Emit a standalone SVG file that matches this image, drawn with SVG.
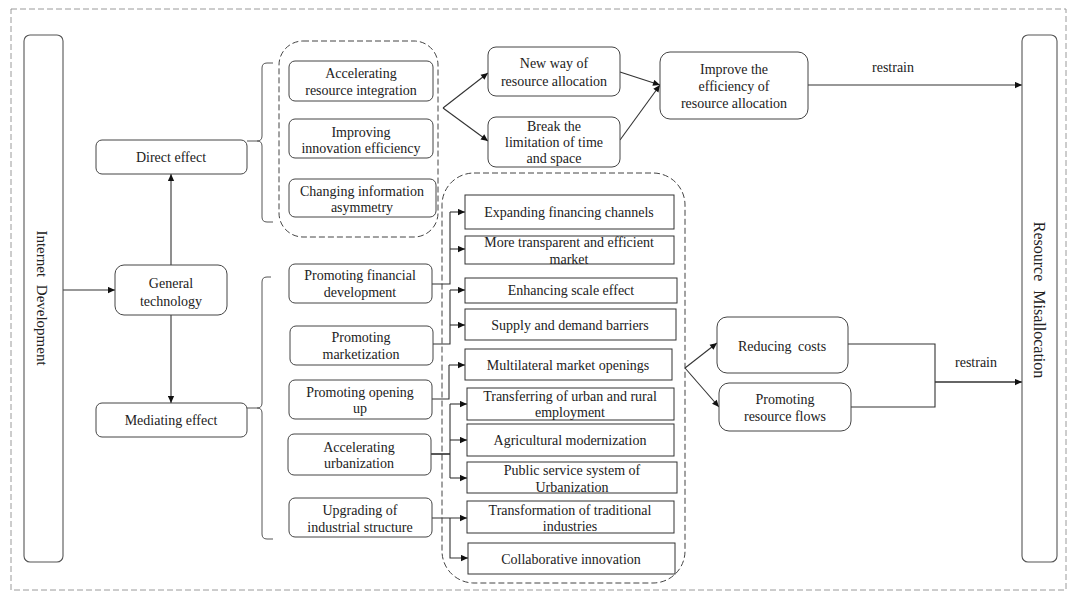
<svg xmlns="http://www.w3.org/2000/svg" width="1076" height="600" viewBox="0 0 1076 600" font-family="'Liberation Serif', 'Times New Roman', 'DejaVu Serif', serif">
<style>
  .t{font-family:'Liberation Serif','Times New Roman','DejaVu Serif',serif;font-size:14px;fill:#222;text-anchor:middle}
  .big{font-size:16px}
  .box{fill:#fff;stroke:#444;stroke-width:1}
  .bar{fill:#fff;stroke:#555;stroke-width:1.1}
  .sq{fill:#fff;stroke:#333;stroke-width:1}
  .grp{fill:none;stroke:#444;stroke-width:1;stroke-dasharray:6,3}
  .outer{fill:#fff;stroke:#9a9a9a;stroke-width:1;stroke-dasharray:6,3}
  .c{fill:none;stroke:#333;stroke-width:1.1}
  .ca{fill:none;stroke:#333;stroke-width:1.1;marker-end:url(#ah)}
  .br{fill:none;stroke:#555;stroke-width:1}
</style>
<defs>
  <marker id="ah" viewBox="0 0 10 10" refX="10" refY="5" markerWidth="8" markerHeight="7" markerUnits="userSpaceOnUse" orient="auto">
    <path d="M0,0.5 L10,5 L0,9.5 z" fill="#111"/>
  </marker>
</defs>
<rect x="0" y="0" width="1076" height="600" fill="#fff"/>
<rect class="outer" x="11" y="9" width="1055" height="581"/>

<g id="groups">
  <rect class="grp" x="279" y="41" width="159" height="196" rx="24"/>
  <rect class="grp" x="442" y="173" width="243" height="410" rx="32"/>
</g>

<g id="connectors">
  <path class="ca" d="M63,290 H115"/>
  <path class="ca" d="M171,265 V174"/>
  <path class="ca" d="M171,315 V403"/>
  <path class="br" d="M247,141 H257 Q262,141 262,136 V68 Q262,63 267,63 H273 M257,141 Q262,141 262,146 V217 Q262,222 267,222 H273"/>
  <path class="br" d="M247,408 H257 Q262,408 262,403 V282 Q262,277 267,277 H271 M257,408 Q262,408 262,413 V534 Q262,539 267,539 H273"/>
  <path class="ca" d="M443,108 L488,73"/>
  <path class="ca" d="M443,108 L488,141"/>
  <path class="ca" d="M620,72 L660,85"/>
  <path class="ca" d="M620,140 L660,85"/>
  <path class="ca" d="M808,85 H1022"/>
  <path class="c" d="M432,284 H450 V212"/>
  <path class="ca" d="M450,212 H465"/>
  <path class="ca" d="M450,249 H465"/>
  <path class="c" d="M433,344 H450 V290"/>
  <path class="ca" d="M450,290 H465"/>
  <path class="ca" d="M450,325 H465"/>
  <path class="c" d="M432,399 H449 V365"/>
  <path class="ca" d="M449,365 H465"/>
  <path class="c" d="M431,454 H450" style="stroke:#111;stroke-width:1.4"/>
  <path class="c" d="M450,404 V478"/>
  <path class="ca" d="M450,404 H467"/>
  <path class="ca" d="M450,440 H467"/>
  <path class="ca" d="M450,478 H467"/>
  <path class="ca" d="M432,518 H467"/>
  <path class="ca" d="M450,518 V558 H468"/>
  <path class="ca" d="M685,368 L717,343"/>
  <path class="ca" d="M685,368 L719,407"/>
  <path class="c" d="M848,344 H935 V382"/>
  <path class="c" d="M851,407 H935 V382"/>
  <path class="ca" d="M935,382 H1022" style="stroke-width:1.4"/>
  <text class="t" x="893" y="72">restrain</text>
  <text class="t" x="976" y="367">restrain</text>
</g>

<g id="internet-development">
  <rect class="bar" x="24" y="35" width="39" height="527" rx="6"/>
  <text class="t" transform="translate(42,298) rotate(90)" dy="0.35em" style="font-size:15px;word-spacing:4px">Internet Development</text>
</g>
<g id="resource-misallocation">
  <rect class="bar" x="1022" y="35" width="35" height="527" rx="6"/>
  <text class="t big" transform="translate(1040,300) rotate(90)" dy="0.35em" style="word-spacing:5px">Resource Misallocation</text>
</g>

<g id="general-technology">
  <rect class="box" x="115" y="265" width="112" height="50" rx="9"/>
  <text class="t" x="171" y="288">General</text>
  <text class="t" x="171" y="306">technology</text>
</g>
<g id="direct-effect">
  <rect class="box" x="96" y="140" width="151" height="34" rx="6"/>
  <text class="t" x="171" y="162">Direct effect</text>
</g>
<g id="mediating-effect">
  <rect class="box" x="96" y="403" width="151" height="34" rx="6"/>
  <text class="t" x="171" y="425">Mediating effect</text>
</g>

<g id="accelerating-resource-integration">
  <rect class="box" x="289" y="61" width="144" height="40" rx="6"/>
  <text class="t" x="361" y="78">Accelerating</text>
  <text class="t" x="361" y="95">resource integration</text>
</g>
<g id="improving-innovation-efficiency">
  <rect class="box" x="289" y="119" width="144" height="39" rx="6"/>
  <text class="t" x="361" y="137">Improving</text>
  <text class="t" x="361" y="153">innovation efficiency</text>
</g>
<g id="changing-information-asymmetry">
  <rect class="box" x="289" y="179" width="147" height="38" rx="6"/>
  <text class="t" x="362" y="196">Changing information</text>
  <text class="t" x="362" y="212">asymmetry</text>
</g>

<g id="new-way">
  <rect class="box" x="488" y="47" width="132" height="49" rx="8"/>
  <text class="t" x="554" y="68">New way of</text>
  <text class="t" x="554" y="86">resource allocation</text>
</g>
<g id="break-limitation">
  <rect class="box" x="488" y="117" width="132" height="50" rx="8"/>
  <text class="t" x="554" y="131">Break the</text>
  <text class="t" x="554" y="147">limitation of time</text>
  <text class="t" x="554" y="163">and space</text>
</g>
<g id="improve-efficiency">
  <rect class="box" x="660" y="52" width="148" height="67" rx="10"/>
  <text class="t" x="734" y="74">Improve the</text>
  <text class="t" x="734" y="91">efficiency of</text>
  <text class="t" x="734" y="108">resource allocation</text>
</g>

<g id="promoting-financial-development">
  <rect class="box" x="289" y="264" width="143" height="39" rx="6"/>
  <text class="t" x="360" y="280">Promoting financial</text>
  <text class="t" x="360" y="297">development</text>
</g>
<g id="promoting-marketization">
  <rect class="box" x="290" y="326" width="143" height="39" rx="6"/>
  <text class="t" x="361" y="342">Promoting</text>
  <text class="t" x="361" y="359">marketization</text>
</g>
<g id="promoting-opening-up">
  <rect class="box" x="289" y="380" width="143" height="39" rx="6"/>
  <text class="t" x="360" y="397">Promoting opening</text>
  <text class="t" x="360" y="413">up</text>
</g>
<g id="accelerating-urbanization">
  <rect class="box" x="288" y="434" width="143" height="41" rx="6"/>
  <text class="t" x="359" y="452">Accelerating</text>
  <text class="t" x="359" y="468">urbanization</text>
</g>
<g id="upgrading-industrial-structure">
  <rect class="box" x="289" y="498" width="143" height="39" rx="6"/>
  <text class="t" x="360" y="515">Upgrading of</text>
  <text class="t" x="360" y="532">industrial structure</text>
</g>

<g id="expanding-financing-channels">
  <rect class="sq" x="465" y="195" width="209" height="34"/>
  <text class="t" x="569" y="217">Expanding financing channels</text>
</g>
<g id="more-transparent-market">
  <rect class="sq" x="465" y="236" width="209" height="28"/>
  <text class="t" x="569" y="247">More transparent and efficient</text>
  <text class="t" x="569" y="264">market</text>
</g>
<g id="enhancing-scale-effect">
  <rect class="sq" x="465" y="278" width="212" height="25"/>
  <text class="t" x="571" y="295">Enhancing scale effect</text>
</g>
<g id="supply-demand-barriers">
  <rect class="sq" x="465" y="309" width="211" height="31"/>
  <text class="t" x="570" y="330">Supply and demand barriers</text>
</g>
<g id="multilateral-market-openings">
  <rect class="sq" x="465" y="349" width="207" height="31"/>
  <text class="t" x="568" y="370">Multilateral market openings</text>
</g>
<g id="transferring-employment">
  <rect class="sq" x="467" y="388" width="207" height="32"/>
  <text class="t" x="570" y="401">Transferring of urban and rural</text>
  <text class="t" x="570" y="417">employment</text>
</g>
<g id="agricultural-modernization">
  <rect class="sq" x="467" y="424" width="207" height="32"/>
  <text class="t" x="570" y="445">Agricultural modernization</text>
</g>
<g id="public-service-system">
  <rect class="sq" x="467" y="462" width="210" height="31"/>
  <text class="t" x="572" y="475">Public service system of</text>
  <text class="t" x="572" y="492">Urbanization</text>
</g>
<g id="transformation-traditional-industries">
  <rect class="sq" x="467" y="501" width="207" height="32"/>
  <text class="t" x="570" y="515">Transformation of traditional</text>
  <text class="t" x="570" y="531">industries</text>
</g>
<g id="collaborative-innovation">
  <rect class="sq" x="468" y="543" width="207" height="31"/>
  <text class="t" x="571" y="564">Collaborative innovation</text>
</g>

<g id="reducing-costs">
  <rect class="box" x="717" y="317" width="131" height="56" rx="10"/>
  <text class="t" x="782" y="351" style="word-spacing:3px">Reducing costs</text>
</g>
<g id="promoting-resource-flows">
  <rect class="box" x="719" y="383" width="132" height="48" rx="10"/>
  <text class="t" x="785" y="404">Promoting</text>
  <text class="t" x="785" y="421">resource flows</text>
</g>
</svg>
